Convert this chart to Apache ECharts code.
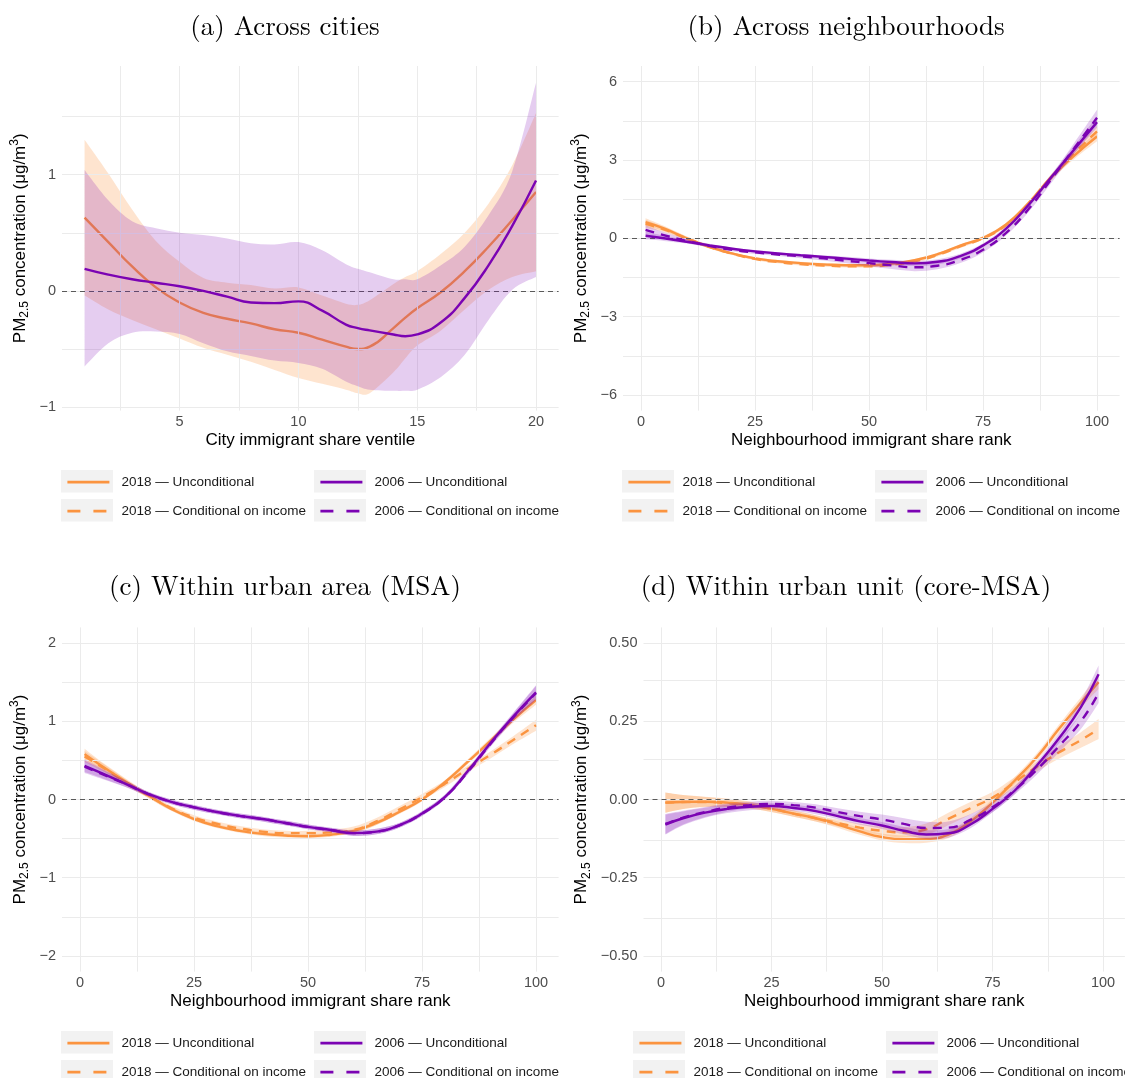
<!DOCTYPE html>
<html><head><meta charset="utf-8">
<script src="https://cdn.jsdelivr.net/npm/echarts@6/dist/echarts.min.js"></script>
<style>html,body{margin:0;padding:0;background:#fff}#c{width:1125px;height:1078px}</style>
</head><body><div id="c"></div>
<script>
// ---------- names ----------
const U18 = '2018 — Unconditional', C18 = '2018 — Conditional on income';
const U06 = '2006 — Unconditional', C06 = '2006 — Conditional on income';
const TITLES = ['(a) Across cities', '(b) Across neighbourhoods', '(c) Within urban area (MSA)', '(d) Within urban unit (core-MSA)'];
const XNAMES = ['City immigrant share ventile', 'Neighbourhood immigrant share rank', 'Neighbourhood immigrant share rank', 'Neighbourhood immigrant share rank'];

// ---------- panel (a): across cities ----------
const X_A = [1,2,3,4,5,6,7,8,9,10,11,12,12.5,13,14,14.5,15,16,17,18,19,20];
const A_U18    = [0.63,0.42,0.21,0.03,-0.10,-0.19,-0.24,-0.28,-0.33,-0.36,-0.42,-0.48,-0.50,-0.48,-0.32,-0.23,-0.15,-0.01,0.17,0.38,0.61,0.85];
const A_U18_HI = [1.30,1.01,0.70,0.43,0.25,0.11,0.07,0.05,0.02,0.03,-0.04,-0.11,-0.12,-0.08,0.06,0.12,0.17,0.32,0.50,0.75,1.08,1.53];
const A_U18_LO = [-0.04,-0.16,-0.25,-0.33,-0.41,-0.49,-0.55,-0.61,-0.68,-0.75,-0.80,-0.85,-0.88,-0.88,-0.70,-0.58,-0.47,-0.34,-0.16,0.01,0.12,0.17];
const A_U06    = [0.19,0.14,0.10,0.07,0.04,0.00,-0.05,-0.10,-0.105,-0.09,-0.17,-0.29,-0.32,-0.34,-0.375,-0.39,-0.375,-0.27,-0.06,0.22,0.56,0.95];
const A_U06_HI = [1.04,0.78,0.60,0.54,0.50,0.48,0.45,0.41,0.40,0.42,0.35,0.23,0.19,0.16,0.10,0.10,0.10,0.22,0.38,0.65,1.03,1.79];
const A_U06_LO = [-0.65,-0.45,-0.36,-0.35,-0.37,-0.45,-0.52,-0.56,-0.60,-0.62,-0.67,-0.78,-0.82,-0.85,-0.86,-0.86,-0.85,-0.74,-0.55,-0.25,0.01,0.12];

// ---------- panel (b): across neighbourhoods ----------
const X_N = [1,5,10,15,20,25,30,35,40,45,50,55,60,65,70,75,80,85,90,95,100];
const B_U18 = [0.62,0.38,0.00,-0.33,-0.58,-0.77,-0.88,-0.95,-1.00,-1.03,-1.03,-0.97,-0.84,-0.61,-0.28,0.02,0.52,1.35,2.35,3.17,3.90];
const B_C18 = [0.55,0.34,0.00,-0.33,-0.59,-0.79,-0.91,-0.99,-1.04,-1.07,-1.07,-1.01,-0.88,-0.64,-0.31,0.00,0.50,1.33,2.33,3.25,4.10];
const B_U06 = [0.10,0.00,-0.13,-0.27,-0.40,-0.50,-0.58,-0.65,-0.71,-0.78,-0.85,-0.91,-0.96,-0.90,-0.68,-0.27,0.36,1.28,2.35,3.40,4.45];
const B_C06 = [0.32,0.12,-0.10,-0.29,-0.44,-0.54,-0.62,-0.69,-0.77,-0.86,-0.95,-1.04,-1.11,-1.05,-0.83,-0.44,0.20,1.12,2.27,3.45,4.62];
const B_U18_CI = [0.15,0.10,0.07,0.06,0.05,0.05,0.05,0.05,0.05,0.05,0.05,0.05,0.05,0.05,0.05,0.06,0.07,0.08,0.10,0.13,0.18];
const B_C18_CI = [0.16,0.10,0.07,0.06,0.05,0.05,0.05,0.05,0.05,0.05,0.05,0.05,0.06,0.06,0.06,0.06,0.07,0.09,0.11,0.15,0.20];
const B_U06_CI = [0.15,0.10,0.07,0.06,0.05,0.05,0.05,0.05,0.06,0.07,0.08,0.09,0.10,0.10,0.09,0.08,0.08,0.09,0.11,0.15,0.22];
const B_C06_CI = [0.18,0.12,0.08,0.06,0.06,0.06,0.06,0.07,0.08,0.10,0.12,0.14,0.15,0.14,0.12,0.10,0.10,0.11,0.14,0.20,0.30];

// ---------- panel (c): within urban area (MSA) ----------
const C_U18 = [0.58,0.42,0.23,0.05,-0.12,-0.25,-0.34,-0.40,-0.44,-0.46,-0.47,-0.45,-0.40,-0.30,-0.16,0.00,0.22,0.48,0.75,1.02,1.27];
const C_C18 = [0.55,0.41,0.22,0.05,-0.11,-0.23,-0.31,-0.37,-0.41,-0.43,-0.43,-0.42,-0.39,-0.28,-0.13,0.03,0.20,0.39,0.57,0.76,0.95];
const C_U06 = [0.43,0.33,0.20,0.07,-0.03,-0.10,-0.16,-0.21,-0.25,-0.30,-0.35,-0.39,-0.43,-0.41,-0.33,-0.18,0.03,0.36,0.72,1.06,1.37];
const C_C06 = [0.42,0.32,0.20,0.07,-0.03,-0.10,-0.16,-0.21,-0.25,-0.30,-0.35,-0.39,-0.43,-0.41,-0.33,-0.18,0.03,0.35,0.71,1.05,1.36];
const C_U18_CI = [0.07,0.05,0.04,0.03,0.025,0.025,0.025,0.025,0.025,0.025,0.025,0.025,0.025,0.025,0.025,0.025,0.025,0.03,0.035,0.04,0.06];
const C_C18_CI = [0.07,0.05,0.04,0.03,0.03,0.03,0.03,0.03,0.03,0.03,0.03,0.035,0.045,0.045,0.045,0.04,0.04,0.04,0.045,0.05,0.07];
const C_U06_CI = [0.08,0.06,0.04,0.03,0.03,0.03,0.03,0.03,0.03,0.03,0.03,0.03,0.035,0.035,0.03,0.03,0.03,0.035,0.04,0.05,0.09];
const C_C06_CI = [0.08,0.06,0.04,0.03,0.03,0.03,0.03,0.03,0.03,0.03,0.03,0.03,0.035,0.035,0.03,0.03,0.03,0.035,0.04,0.05,0.09];

// ---------- panel (d): within urban unit (core-MSA) ----------
const X_D = [1,5,10,15,20,25,30,35,40,45,50,55,60,65,70,75,80,85,90,95,99];
const D_U18 = [-0.010,-0.008,-0.007,-0.010,-0.017,-0.030,-0.045,-0.060,-0.080,-0.102,-0.120,-0.127,-0.126,-0.112,-0.070,-0.010,0.060,0.135,0.225,0.310,0.375];
const D_C18 = [-0.010,-0.008,-0.008,-0.012,-0.018,-0.030,-0.045,-0.060,-0.075,-0.090,-0.100,-0.105,-0.095,-0.062,-0.028,0.006,0.055,0.105,0.150,0.190,0.225];
const D_U06 = [-0.080,-0.060,-0.042,-0.030,-0.023,-0.021,-0.027,-0.037,-0.053,-0.070,-0.083,-0.100,-0.112,-0.108,-0.080,-0.030,0.028,0.108,0.195,0.295,0.400];
const D_C06 = [-0.078,-0.058,-0.040,-0.026,-0.018,-0.014,-0.018,-0.026,-0.040,-0.053,-0.064,-0.078,-0.091,-0.090,-0.065,-0.025,0.030,0.095,0.170,0.250,0.340];
const D_U18_CI = [0.032,0.022,0.016,0.013,0.011,0.01,0.01,0.01,0.01,0.011,0.011,0.012,0.012,0.012,0.011,0.011,0.011,0.012,0.014,0.017,0.022];
const D_C18_CI = [0.032,0.022,0.016,0.013,0.011,0.01,0.01,0.01,0.011,0.012,0.014,0.016,0.018,0.02,0.02,0.018,0.016,0.016,0.02,0.025,0.032];
const D_U06_CI = [0.032,0.022,0.016,0.013,0.011,0.01,0.01,0.01,0.01,0.011,0.011,0.012,0.014,0.014,0.012,0.011,0.011,0.012,0.016,0.021,0.028];
const D_C06_CI = [0.032,0.022,0.016,0.013,0.011,0.01,0.01,0.011,0.012,0.014,0.016,0.018,0.02,0.02,0.018,0.016,0.014,0.016,0.02,0.025,0.032];

// ---------- axis ticks & grid lines ----------
const XT_A = [5,10,15,20], XG_A = [2.5,5,7.5,10,12.5,15,17.5,20];
const XT_N = [0,25,50,75,100], XG_N = [0,12.5,25,37.5,50,62.5,75,87.5,100];
const YT_A = [-1,0,1], YG_A = [-1,-0.5,0,0.5,1,1.5];
const YT_B = [-6,-3,0,3,6], YG_B = [-6,-4.5,-3,-1.5,0,1.5,3,4.5,6];
const YT_C = [-2,-1,0,1,2], YG_C = [-2,-1.5,-1,-0.5,0,0.5,1,1.5,2];
const YT_D = [-0.5,-0.25,0,0.25,0.5], YG_D = [-0.5,-0.375,-0.25,-0.125,0,0.125,0.25,0.375,0.5];

// ---------- style ----------
const SANS = '"Liberation Sans", Arial, Helvetica, sans-serif';
const SERIF = '"Latin Modern Roman", "CMU Serif", "Liberation Serif", serif';
const ORANGE = '#FB9440', PURPLE = '#7B03B3';
const FILL_O = 'rgba(251,148,64,0.25)', FILL_P = 'rgba(123,3,179,0.2)';
const DASH = [9, 7];
const LW = 2.4;

const GRIDS = [
  {left: 62, top: 66, width: 496.6, height: 344.6},
  {left: 623, top: 66, width: 496.6, height: 344.6},
  {left: 62, top: 627.4, width: 496.6, height: 344.2},
  {left: 643.5, top: 627.4, width: 481.4, height: 344.2}
];

function minus(s) { return s.replace('-', '\u2212'); }
const fmtInt = v => minus(String(v));
const fmt2 = v => minus(v.toFixed(2));

function xAx(gi, min, max, ticks) {
  return {
    type: 'value', gridIndex: gi, min, max,
    axisLine: {show: false}, axisTick: {show: false}, splitLine: {show: false},
    axisLabel: {customValues: ticks, color: '#4d4d4d', fontSize: 14.5, fontFamily: SANS, margin: 4, formatter: fmtInt},
    name: XNAMES[gi], nameLocation: 'middle', nameGap: 21,
    nameTextStyle: {fontSize: 17, fontFamily: SANS, color: '#000'}
  };
}
function yAx(gi, min, max, ticks, fmt, gap) {
  return {
    type: 'value', gridIndex: gi, min, max,
    axisLine: {show: false}, axisTick: {show: false}, splitLine: {show: false},
    axisLabel: {customValues: ticks, color: '#4d4d4d', fontSize: 14.5, fontFamily: SANS, margin: 6, formatter: fmt},
    name: '{a|PM}{s|2.5}{a| concentration (μg/m}{p|3}{a|)}',
    nameLocation: 'middle', nameGap: gap,
    nameTextStyle: {
      rich: {
        a: {fontSize: 17, fontFamily: SANS, color: '#000', lineHeight: 22, verticalAlign: 'middle'},
        s: {fontSize: 12, fontFamily: SANS, color: '#000', lineHeight: 12, verticalAlign: 'bottom'},
        p: {fontSize: 12, fontFamily: SANS, color: '#000', lineHeight: 12, verticalAlign: 'top'}
      }
    }
  };
}

// grid lines drawn through the axes' own scales as mark lines
function gridLines(gi, xg, yg) {
  return {
    type: 'line', xAxisIndex: gi, yAxisIndex: gi, z: 1, silent: true, animation: false,
    symbol: 'none', data: [],
    markLine: {
      silent: true, symbol: ['none', 'none'], label: {show: false}, animation: false,
      lineStyle: {color: '#ebebeb', width: 1, type: 'solid'},
      data: xg.map(v => ({xAxis: v})).concat(yg.map(v => ({yAxis: v})))
    }
  };
}

// Catmull-Rom path through screen points
function crSeg(pts) {
  let d = '';
  for (let i = 0; i < pts.length - 1; i++) {
    const p0 = pts[i - 1] || pts[i], p1 = pts[i], p2 = pts[i + 1], p3 = pts[i + 2] || pts[i + 1];
    const c1x = p1[0] + (p2[0] - p0[0]) / 6, c1y = p1[1] + (p2[1] - p0[1]) / 6;
    const c2x = p2[0] - (p3[0] - p1[0]) / 6, c2y = p2[1] - (p3[1] - p1[1]) / 6;
    d += ' C' + c1x.toFixed(2) + ' ' + c1y.toFixed(2) + ' ' + c2x.toFixed(2) + ' ' + c2y.toFixed(2) + ' ' + p2[0].toFixed(2) + ' ' + p2[1].toFixed(2);
  }
  return d;
}
function ribbon(gi, xs, lo, hi, fill, z) {
  return {
    type: 'custom', xAxisIndex: gi, yAxisIndex: gi, z, silent: true, animation: false,
    data: xs.map((x, k) => [x, lo[k], hi[k]]),
    encode: {x: 0, y: [1, 2]},
    renderItem(params, api) {
      if (params.dataIndex !== 0) return null;
      const up = xs.map((x, k) => api.coord([x, hi[k]]));
      const dn = xs.map((x, k) => api.coord([x, lo[k]])).reverse();
      const d = 'M' + up[0][0].toFixed(2) + ' ' + up[0][1].toFixed(2) + crSeg(up) +
                ' L' + dn[0][0].toFixed(2) + ' ' + dn[0][1].toFixed(2) + crSeg(dn) + ' Z';
      return {type: 'path', shape: {pathData: d}, style: {fill: fill, stroke: null}};
    }
  };
}
function band(ys, ci, sign) { return ys.map((y, k) => y + sign * ci[k]); }

function line(gi, name, xs, ys, color, dashed, z, withZero) {
  const s = {
    type: 'line', name, xAxisIndex: gi, yAxisIndex: gi, z, silent: true, animation: false,
    symbol: 'none', smooth: 0.5,
    data: xs.map((x, k) => [x, ys[k]]),
    lineStyle: {color, width: LW, type: dashed ? DASH : 'solid', cap: 'butt'},
    itemStyle: {color}
  };
  if (withZero) {
    s.markLine = {
      silent: true, symbol: ['none', 'none'], label: {show: false}, animation: false,
      data: [{yAxis: 0}],
      lineStyle: {color: '#5a5a5a', width: 1, type: [5, 4]}
    };
  }
  return s;
}

const series = [];
series.push(gridLines(0, XG_A, YG_A));
series.push(gridLines(1, XG_N, YG_B));
series.push(gridLines(2, XG_N, YG_C));
series.push(gridLines(3, XG_N, YG_D));
// panel a
series.push(ribbon(0, X_A, A_U18_LO, A_U18_HI, FILL_O, 2));
series.push(line(0, U18, X_A, A_U18, ORANGE, false, 4, true));
series.push(ribbon(0, X_A, A_U06_LO, A_U06_HI, FILL_P, 6));
series.push(line(0, U06, X_A, A_U06, PURPLE, false, 8, false));

function neighPanel(gi, xs, u18, c18, u06, c06, u18ci, c18ci, u06ci, c06ci) {
  series.push(ribbon(gi, xs, band(u18, u18ci, -1), band(u18, u18ci, 1), FILL_O, 2));
  series.push(ribbon(gi, xs, band(c18, c18ci, -1), band(c18, c18ci, 1), FILL_O, 2));
  series.push(line(gi, U18, xs, u18, ORANGE, false, 4, true));
  series.push(line(gi, C18, xs, c18, ORANGE, true, 5, false));
  series.push(ribbon(gi, xs, band(u06, u06ci, -1), band(u06, u06ci, 1), FILL_P, 6));
  series.push(ribbon(gi, xs, band(c06, c06ci, -1), band(c06, c06ci, 1), FILL_P, 6));
  series.push(line(gi, U06, xs, u06, PURPLE, false, 8, false));
  series.push(line(gi, C06, xs, c06, PURPLE, true, 9, false));
}
neighPanel(1, X_N, B_U18, B_C18, B_U06, B_C06, B_U18_CI, B_C18_CI, B_U06_CI, B_C06_CI);
neighPanel(2, X_N, C_U18, C_C18, C_U06, C_C06, C_U18_CI, C_C18_CI, C_U06_CI, C_C06_CI);
neighPanel(3, X_D, D_U18, D_C18, D_U06, D_C06, D_U18_CI, D_C18_CI, D_U06_CI, D_C06_CI);

// ---------- legends (one component per key) ----------
const LEG_POS = [ // [col1 line x, col2 line x, top]
  [66, 319, 470], [627, 880, 470], [66, 319, 1031], [638, 891, 1031]
];
const ROW_STEP = 29, LEG_SHIFT = 3;
const legends = [], graphics = [];
LEG_POS.forEach(([x1, x2, top]) => {
  [[x1, U18, C18], [x2, U06, C06]].forEach(([x, n1, n2]) => {
    [n1, n2].forEach((nm, r) => {
      const item = {name: nm, itemStyle: {opacity: 0}, lineStyle: {width: 2.8}};
      if (r === 1) item.lineStyle = {width: 2.8, type: [13, 13]};
      legends.push({
        orient: 'vertical', left: x, top: top + r * ROW_STEP + LEG_SHIFT, padding: 0, z: 10,
        itemWidth: 42, itemHeight: 22.6, selectedMode: false,
        itemStyle: {opacity: 0},
        textStyle: {fontSize: 13.5, fontFamily: SANS, color: '#1a1a1a', padding: [0, 0, 0, 7]},
        data: [item]
      });
      graphics.push({type: 'rect', z: 0, silent: true,
        shape: {x: x - 5, y: top + r * ROW_STEP, width: 52, height: 22.6},
        style: {fill: '#f2f2f2'}});
    });
  });
});
const TITLE_POS = [[285, 27], [846, 27], [285, 587], [846, 587]];
TITLE_POS.forEach(([x, y], i) => {
  graphics.push({type: 'text', x, y, silent: true, z: 10,
    style: {text: TITLES[i], fill: '#000', font: '27px ' + SERIF,
            textAlign: 'center', textVerticalAlign: 'middle', align: 'center', verticalAlign: 'middle'}});
});

const option = {
  animation: false,
  backgroundColor: '#ffffff',
  grid: GRIDS.map(g => Object.assign({containLabel: false, outerBoundsMode: 'none'}, g)),
  xAxis: [
    xAx(0, 0.05, 20.95, XT_A),
    xAx(1, -3.95, 104.95, XT_N),
    xAx(2, -3.95, 104.95, XT_N),
    xAx(3, -3.95, 104.95, XT_N)
  ],
  yAxis: [
    yAx(0, -1.03, 1.935, YT_A, fmtInt, 31),
    yAx(1, -6.6, 6.6, YT_B, fmtInt, 31),
    yAx(2, -2.2, 2.2, YT_C, fmtInt, 31),
    yAx(3, -0.55, 0.55, YT_D, fmt2, 51)
  ],
  legend: legends,
  graphic: graphics,
  series
};
const chart = echarts.init(document.getElementById('c'), null, {renderer: 'canvas'});
chart.setOption(option);
</script></body></html>
